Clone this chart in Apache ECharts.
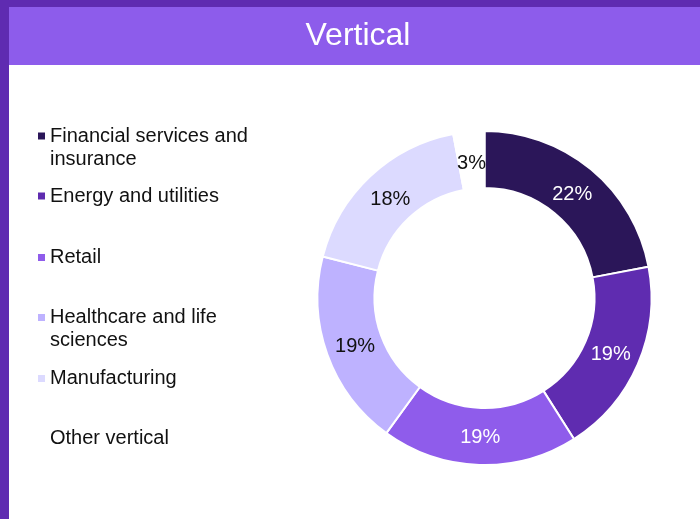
<!DOCTYPE html>
<html>
<head>
<meta charset="utf-8">
<script src="https://cdn.jsdelivr.net/npm/echarts@6/dist/echarts.min.js"></script>
<style>
html,body{margin:0;padding:0;background:#fff;}
#chart{width:700px;height:519px;}
</style>
</head>
<body>
<div id="chart"></div>
<script>
// ---- data ----
var titleText = 'Vertical';
var categories = [
  'Financial services and insurance',
  'Energy and utilities',
  'Retail',
  'Healthcare and life sciences',
  'Manufacturing',
  'Other vertical'
];
var legendLabels = [
  'Financial services and\ninsurance',
  'Energy and utilities',
  'Retail',
  'Healthcare and life\nsciences',
  'Manufacturing',
  'Other vertical'
];
var values = [22, 19, 19, 19, 18, 3];

// ---- styles ----
var palette = ['#2B1659', '#5F2CB0', '#8F5CEB', '#BEB2FF', '#DCDAFF', '#FFFFFF'];
var labelColors = ['#FFFFFF', '#FFFFFF', '#FFFFFF', '#111111', '#111111', '#111111'];
var FONT = '"Liberation Sans", Arial, sans-serif';
var legendCenters = [135, 195, 256.5, 316.5, 377.5, 437];
var LH = 23;

var chart = echarts.init(document.getElementById('chart'), null, {renderer: 'canvas'});

var legends = categories.map(function (name, i) {
  var twoLine = legendLabels[i].indexOf('\n') >= 0;
  var boxH = twoLine ? LH * 3 : LH;
  var txt = twoLine ? '\n' + legendLabels[i] : legendLabels[i];
  return {
    show: true,
    orient: 'vertical',
    left: 38,
    top: legendCenters[i] - boxH / 2 + 1,
    padding: 0,
    itemWidth: 7,
    itemHeight: 7,
    icon: 'rect',
    selectedMode: false,
    itemStyle: {borderWidth: 0},
    data: [name],
    formatter: function () { return txt; },
    textStyle: {
      fontFamily: FONT,
      fontSize: 20,
      lineHeight: LH,
      color: '#111111'
    }
  };
});

var sliceData = categories.map(function (name, i) {
  return {
    name: name,
    value: values[i],
    itemStyle: {color: palette[i]}
  };
});

var labelData = categories.map(function (name, i) {
  return {
    name: name,
    value: values[i],
    itemStyle: {color: 'rgba(255,255,255,0)'},
    label: {color: labelColors[i]}
  };
});

var option = {
  animation: false,
  backgroundColor: '#ffffff',
  title: {
    text: titleText,
    left: 358,
    top: 36,
    textAlign: 'center',
    textVerticalAlign: 'middle',
    padding: 0,
    textStyle: {
      fontFamily: FONT,
      fontSize: 32,
      fontWeight: 'normal',
      color: '#ffffff'
    }
  },
  graphic: [
    {type: 'rect', z: -10, shape: {x: 0, y: 0, width: 700, height: 7}, style: {fill: '#5F2BB1'}},
    {type: 'rect', z: -10, shape: {x: 0, y: 0, width: 9, height: 519}, style: {fill: '#5F2BB1'}},
    {type: 'rect', z: -10, shape: {x: 9, y: 7, width: 691, height: 58}, style: {fill: '#8D5CEB'}}
  ],
  legend: legends,
  series: [{
    type: 'pie',
    name: 'slices',
    center: [484.5, 298],
    radius: [110, 167],
    startAngle: 90,
    clockwise: true,
    silent: true,
    itemStyle: {borderColor: '#ffffff', borderWidth: 2},
    label: {show: false},
    labelLine: {show: false},
    data: sliceData
  }, {
    type: 'pie',
    name: 'labels',
    center: [484.5, 300],
    radius: [102, 167],
    startAngle: 90,
    clockwise: true,
    silent: true,
    z: 5,
    avoidLabelOverlap: false,
    itemStyle: {borderWidth: 0},
    label: {
      show: true,
      position: 'inside',
      fontFamily: FONT,
      fontSize: 20,
      formatter: function (p) { return p.value + '%'; }
    },
    labelLine: {show: false},
    data: labelData
  }]
};
chart.setOption(option);
</script>
</body>
</html>
